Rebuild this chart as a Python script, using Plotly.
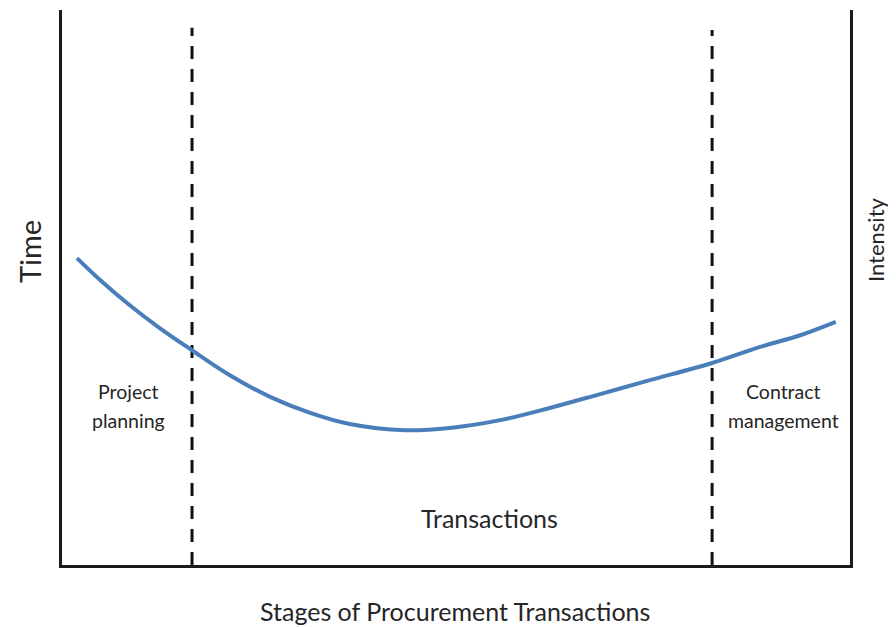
import plotly.graph_objects as go

# Curve: stage position (0-100) vs time/intensity (0-100)
curve_x = [1.9, 4.8, 8.6, 12.4, 16.5, 21.3, 26.4, 31.5, 36.5, 43.5, 49.2,
           55.6, 61.9, 68.3, 74.6, 82.5, 88.6, 93.7, 98.2]
curve_y = [55.3, 51.4, 46.8, 42.7, 38.7, 34.2, 30.3, 27.4, 25.4, 24.3, 24.7,
           26.1, 28.3, 30.8, 33.3, 36.4, 39.3, 41.4, 43.8]

# Stage boundaries (dashed vertical lines)
boundary_x = [16.5, 82.5]
boundary_top = [96.8, 96.4]

# Stage label lines
label_lines = ["Project", "planning", "Transactions", "Contract", "management"]
label_x = [8.5, 8.5, 54.3, 91.5, 91.5]
label_y = [31.2, 26.1, 8.5, 31.2, 26.1]
label_size = [19.5, 19.5, 25, 19.5, 19.5]

FONT = "Lato, 'Open Sans', sans-serif"
TXT = "#262626"

fig = go.Figure()

for bx, bt in zip(boundary_x, boundary_top):
    fig.add_trace(go.Scatter(x=[bx, bx], y=[0, bt], mode="lines",
                             line=dict(color="#111111", width=3, dash="13px,10px"),
                             hoverinfo="skip", showlegend=False))

fig.add_trace(go.Scatter(x=curve_x, y=curve_y, mode="lines",
                         line=dict(color="#4a7ebb", width=4, shape="spline", smoothing=1.0),
                         showlegend=False))

for lab, lx, ly, sz in zip(label_lines, label_x, label_y, label_size):
    fig.add_annotation(x=lx, y=ly, xref="x", yref="y", text=lab, showarrow=False,
                       xanchor="center", yanchor="middle",
                       font=dict(family=FONT, size=sz, color=TXT), align="center")

# window-pixel positions of axis-side texts
fig.add_annotation(x=29, y=252, xref="paper", yref="paper", text="Time", showarrow=False,
                   textangle=-90, font=dict(family=FONT, size=29, color=TXT))
fig.add_annotation(x=875, y=239, xref="paper", yref="paper", text="Intensity", showarrow=False,
                   textangle=-90, font=dict(family=FONT, size=22, color=TXT))
fig.add_annotation(x=455, y=611, xref="paper", yref="paper", text="Stages of Procurement Transactions",
                   showarrow=False, font=dict(family=FONT, size=25, color=TXT))

W, H = 896, 627
OFF = 8  # page body margin
L, R, T, B = 62 - OFF, W - 850 + OFF, 10 - OFF, H - 565 + OFF
pw, ph = W - L - R, H - T - B
for a in fig.layout.annotations:
    if a.xref == "paper":
        a.x = (a.x - OFF - L) / pw
        a.y = (H - B - (a.y - OFF)) / ph
        a.xanchor = "center"
        a.yanchor = "middle"

fig.update_layout(
    width=W, height=H,
    margin=dict(l=L, r=R, t=T, b=B),
    paper_bgcolor="white", plot_bgcolor="white",
    xaxis=dict(range=[0, 100], showgrid=False, zeroline=False, showticklabels=False,
               ticks="", showline=True, linecolor="#1a1a1a", linewidth=2.5),
    yaxis=dict(range=[0, 100], showgrid=False, zeroline=False, showticklabels=False,
               ticks="", showline=True, mirror=True, linecolor="#1a1a1a", linewidth=2.5),
)

fig.write_html("out.html")
